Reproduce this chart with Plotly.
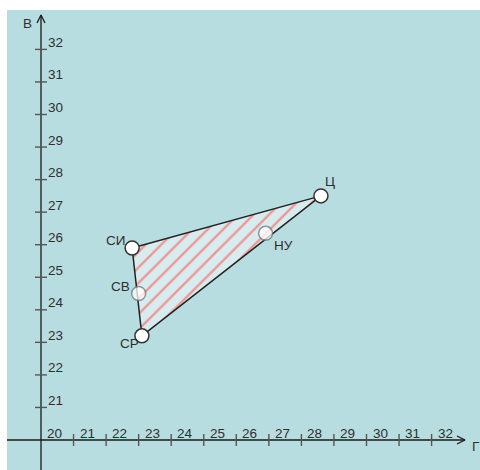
import plotly.graph_objects as go

# ---- data ----
point_names = ["Ц", "СИ", "СВ", "СР", "НУ"]
point_x = [28.6, 22.8, 23.0, 23.1, 26.9]
point_y = [27.5, 25.9, 24.5, 23.2, 26.35]
faded = [False, False, True, False, True]
triangle_order = ["СИ", "Ц", "СР", "СИ"]

x_tick_labels = [20, 21, 22, 23, 24, 25, 26, 27, 28, 29, 30, 31, 32]
y_tick_labels = [21, 22, 23, 24, 25, 26, 27, 28, 29, 30, 31, 32]
x_axis_title = "Г"
y_axis_title = "В"

# ---- geometry (scale: px per unit) ----
S = 32.55
X0, Y0 = 20, 20
W, H = 480, 470
ML, MT = 7, 10
x_lo = X0 - (41 - ML) / S
x_range = [x_lo, x_lo + (W - ML) / S]
y_hi = Y0 + (440 - MT) / S
y_range = [y_hi - (H - MT) / S, y_hi]
x_end = X0 + 424 / S
y_end = Y0 + 425 / S
px = 1 / S

FONT = "Liberation Sans, Arial, sans-serif"
TXT = "#2e2e2e"
FS = 13.5

fig = go.Figure()

# triangle
idx = {n: i for i, n in enumerate(point_names)}
tx = [point_x[idx[n]] for n in triangle_order]
ty = [point_y[idx[n]] for n in triangle_order]
fig.add_trace(go.Scatter(
    x=tx, y=ty, mode="lines", fill="toself",
    line=dict(color="#222222", width=1.5),
    fillcolor="rgba(255,255,255,0.45)",
    fillpattern=dict(shape="/", fgcolor="rgb(250,70,70)",
                     bgcolor="rgba(255,255,255,0.45)", size=11, solidity=0.22),
    hoverinfo="skip", showlegend=False))

# axes lines
fig.add_trace(go.Scatter(
    x=[x_range[0], x_end, None, X0, X0],
    y=[Y0, Y0, None, y_range[0], y_end],
    mode="lines", line=dict(color="#1a1a1a", width=1.3),
    hoverinfo="skip", showlegend=False))
# arrow chevrons
fig.add_trace(go.Scatter(
    x=[x_end - 8 * px, x_end, x_end - 8 * px, None, X0 - 4 * px, X0, X0 + 4 * px],
    y=[Y0 + 4 * px, Y0, Y0 - 4 * px, None, y_end - 8 * px, y_end, y_end - 8 * px],
    mode="lines", line=dict(color="#1a1a1a", width=1.3),
    hoverinfo="skip", showlegend=False))

# tick marks
tkx, tky = [], []
for v in x_tick_labels:
    if v == X0:
        continue
    tkx += [v, v, None]
    tky += [Y0 - 6 * px, Y0 + 6 * px, None]
for v in y_tick_labels:
    tkx += [X0 - 6 * px, X0 + 6 * px, None]
    tky += [v, v, None]
fig.add_trace(go.Scatter(x=tkx, y=tky, mode="lines",
                         line=dict(color="#555555", width=1.4),
                         hoverinfo="skip", showlegend=False))

# points
for i, n in enumerate(point_names):
    fig.add_trace(go.Scatter(
        x=[point_x[i]], y=[point_y[i]], mode="markers",
        marker=dict(size=14, color="white",
                    line=dict(color="#777777" if faded[i] else "#333333", width=1.5)),
        opacity=0.75 if faded[i] else 1.0,
        hoverinfo="skip", showlegend=False))

annotations = []
for v in x_tick_labels:
    annotations.append(dict(x=v, y=Y0, text=str(v), showarrow=False,
                            xanchor="left", yanchor="middle", xshift=4, yshift=7,
                            font=dict(family=FONT, size=FS, color=TXT)))
for v in y_tick_labels:
    annotations.append(dict(x=X0, y=v, text=str(v), showarrow=False,
                            xanchor="left", yanchor="middle", xshift=5, yshift=7,
                            font=dict(family=FONT, size=FS, color=TXT)))

label_offsets = {
    "Ц": ("center", 9, 14),
    "СИ": ("right", -5, 7),
    "СВ": ("right", -7, 7),
    "СР": ("right", -1, -8),
    "НУ": ("left", 6, -12),
}
for i, n in enumerate(point_names):
    anc, dx, dy = label_offsets[n]
    annotations.append(dict(x=point_x[i], y=point_y[i], text=n, showarrow=False,
                            xanchor=anc, yanchor="middle", xshift=dx, yshift=dy,
                            font=dict(family=FONT, size=FS, color=TXT)))

annotations.append(dict(x=X0, y=y_end, text=y_axis_title, showarrow=False,
                        xanchor="right", yanchor="middle", xshift=-7, yshift=-8,
                        font=dict(family=FONT, size=FS, color=TXT)))
annotations.append(dict(x=x_end, y=Y0, text=x_axis_title, showarrow=False,
                        xanchor="left", yanchor="middle", xshift=5, yshift=-6,
                        font=dict(family=FONT, size=FS, color=TXT)))

fig.update_layout(
    width=W, height=H,
    margin=dict(l=ML, r=0, t=MT, b=0),
    paper_bgcolor="white", plot_bgcolor="#b8dde1",
    xaxis=dict(range=x_range, visible=False, fixedrange=True),
    yaxis=dict(range=y_range, visible=False, fixedrange=True),
    annotations=annotations,
    showlegend=False,
)

fig.write_html(
    "out.html",
    config={"displayModeBar": False},
    post_script="document.body.style.margin='0';document.body.style.overflow='hidden';",
)
